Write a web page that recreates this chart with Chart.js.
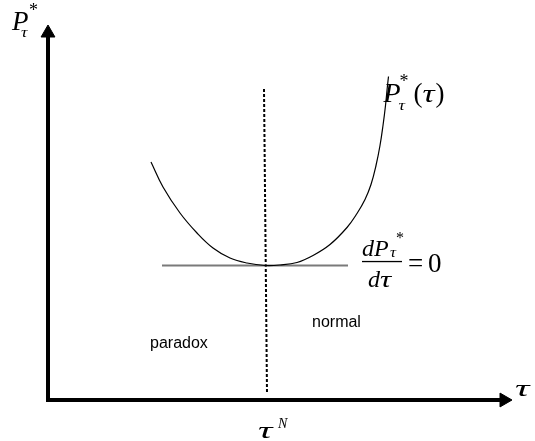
<!DOCTYPE html>
<html>
<head>
<meta charset="utf-8">
<script src="https://cdn.jsdelivr.net/npm/chart.js@4/dist/chart.umd.min.js"></script>
<style>
  html, body { margin: 0; padding: 0; background: #ffffff; }
  #wrap { width: 535px; height: 441px; }
</style>
</head>
<body>
<div id="wrap"><canvas id="c" width="535" height="441"></canvas></div>
<script>
// ---- data (τ on x, P*τ on y, arbitrary units) ----
const curveTau   = [103, 115, 132, 149, 165, 182, 199, 217, 232, 249, 265, 282, 299, 309, 317, 323, 328, 332, 335, 337.5, 339.5, 340.5];
const curvePrice = [238, 213, 187, 167, 152, 142, 137, 134.5, 135, 137.5, 144.5, 155.5, 172.5, 186.5, 200.5, 215.5, 234.5, 254.5, 274.5, 294.5, 314.5, 323.5];
const tangentTau   = [114, 300];
const tangentPrice = [134.5, 134.5];
const tauN = [216, 219];          // vertical dashed line at τ^N (slightly slanted as drawn)
const tauNPrice = [311, 7];
const axisTau   = [0, 0, 456];
const axisPrice = [367, 0, 0];

const pts = (xs, ys) => xs.map((x, i) => ({ x: x, y: ys[i] }));

const serif = '"Liberation Serif", "Times New Roman", serif';

// draw a τ glyph, widened like the Symbol-font tau of the original
function tau(ctx, x, y, size, sx) {
  ctx.save();
  ctx.font = 'italic ' + size + 'px ' + serif;
  ctx.translate(x, y);
  ctx.scale(sx, 1);
  ctx.fillText('τ', 0, 0);
  const w = ctx.measureText('τ').width * sx;
  ctx.restore();
  return w;
}

const labelPlugin = {
  id: 'labels',
  afterDatasetsDraw(chart) {
    const ctx = chart.ctx;
    const X = v => chart.scales.x.getPixelForValue(v);
    const Y = v => chart.scales.y.getPixelForValue(v);
    ctx.save();
    ctx.fillStyle = '#000';
    ctx.textBaseline = 'alphabetic';
    ctx.textAlign = 'left';

    // y axis title P*_τ
    ctx.font = 'italic 27px ' + serif;
    ctx.fillText('P', 12, 30);
    tau(ctx, 21, 37, 15, 1.2);
    ctx.font = '18px ' + serif;
    ctx.fillText('*', 29, 16);

    // x axis title τ
    tau(ctx, X(axisTau[2]) + 11, Y(0) - 4, 23, 1.75);

    // τ^N under the dashed line
    const xn = X(tauN[1]);
    tau(ctx, xn - 9, 438, 23, 1.75);
    ctx.font = 'italic 14px ' + serif;
    ctx.fillText('N', xn + 11, 428);

    // curve label P*_τ(τ)
    const cx = X(curveTau[curveTau.length - 1]);
    const cy = Y(curvePrice[curvePrice.length - 1]);
    ctx.font = 'italic 28px ' + serif;
    ctx.fillText('P', cx - 5, cy + 25);
    tau(ctx, cx + 10, cy + 33, 15, 1.2);
    ctx.font = '18px ' + serif;
    ctx.fillText('*', cx + 11, cy + 10);
    ctx.font = '27px ' + serif;
    ctx.fillText('(', cx + 25, cy + 25);
    const w = tau(ctx, cx + 34, cy + 25, 25, 1.35);
    ctx.font = '27px ' + serif;
    ctx.fillText(')', cx + 35 + w, cy + 25);

    // tangent label dP*_τ / dτ = 0
    const fx = X(tangentTau[1]) + 14;
    const fy = Y(tangentPrice[1]) - 4;
    ctx.font = 'italic 24px ' + serif;
    ctx.fillText('dP', fx, fy - 6);
    tau(ctx, fx + 28, fy - 5, 14, 1.2);
    ctx.font = '16px ' + serif;
    ctx.fillText('*', fx + 34, fy - 19);
    ctx.fillRect(fx, fy - 0.6, 40, 1.3);
    ctx.font = 'italic 24px ' + serif;
    ctx.fillText('d', fx + 6, fy + 25);
    tau(ctx, fx + 18, fy + 25, 24, 1.3);
    ctx.font = '27px ' + serif;
    ctx.fillText('=', fx + 46, fy + 10);
    ctx.fillText('0', fx + 66, fy + 10);

    // region labels
    ctx.font = '16px "Liberation Sans", Arial, sans-serif';
    ctx.textBaseline = 'middle';
    ctx.fillText('normal', X(264), Y(77));
    ctx.fillText('paradox', X(102), Y(56));
    ctx.restore();
  }
};

new Chart(document.getElementById('c'), {
  type: 'line',
  data: {
    datasets: [
      {
        data: pts(axisTau, axisPrice),
        borderColor: '#000',
        borderWidth: 4,
        borderJoinStyle: 'miter',
        borderCapStyle: 'butt',
        tension: 0,
        pointStyle: 'triangle',
        pointRadius: [8, 0, 8],
        pointRotation: [0, 0, 90],
        pointBackgroundColor: '#000',
        pointBorderColor: '#000',
        pointBorderWidth: 1,
        clip: false
      },
      {
        data: pts(curveTau, curvePrice),
        borderColor: '#000',
        borderWidth: 1.2,
        pointRadius: 0,
        tension: 0.4,
        clip: false
      },
      {
        data: pts(tangentTau, tangentPrice),
        borderColor: '#7a7a7a',
        borderWidth: 2,
        pointRadius: 0,
        clip: false
      },
      {
        data: pts(tauN, tauNPrice),
        borderColor: '#000',
        borderWidth: 2,
        borderDash: [3, 2],
        pointRadius: 0,
        clip: false
      }
    ]
  },
  options: {
    responsive: false,
    animation: false,
    layout: { padding: 0, autoPadding: false },
    plugins: { legend: { display: false }, tooltip: { enabled: false } },
    scales: {
      x: { type: 'linear', min: -48, max: 487, display: false },
      y: { type: 'linear', min: -41, max: 400, display: false }
    }
  },
  plugins: [labelPlugin]
});
</script>
</body>
</html>
